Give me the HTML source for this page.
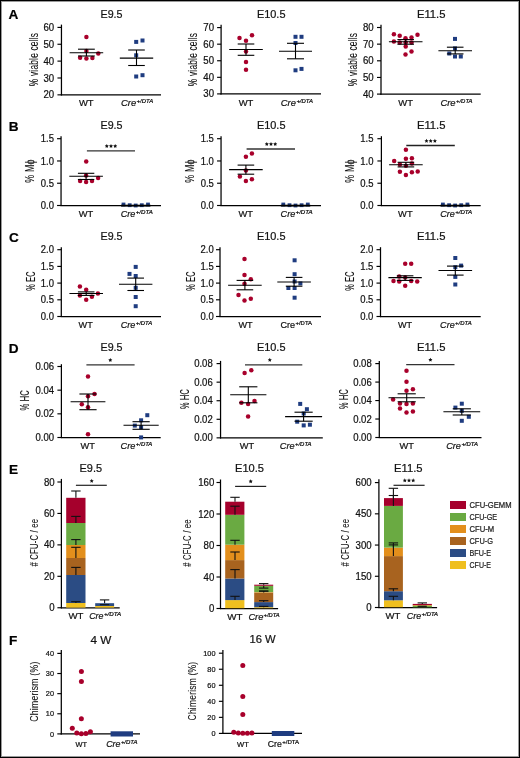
<!DOCTYPE html>
<html><head><meta charset="utf-8"><style>
html,body{margin:0;padding:0;background:#fff;}
body{width:520px;height:758px;overflow:hidden;font-family:"Liberation Sans", sans-serif;}
svg{display:block;will-change:transform;}
text{stroke:#111;stroke-width:0.22px;paint-order:stroke;}
text.v{stroke-width:0.1px;letter-spacing:0.3px;}
</style></head><body>
<svg width="520" height="758" viewBox="0 0 520 758" font-family='"Liberation Sans", sans-serif'>
<rect x="0" y="0" width="520" height="758" fill="#fff"/>
<text x="8.50" y="19.10" font-size="13.6" text-anchor="start" font-weight="bold" font-style="normal" fill="#000">A</text>
<text x="8.80" y="131.20" font-size="13.6" text-anchor="start" font-weight="bold" font-style="normal" fill="#000">B</text>
<text x="9.00" y="241.70" font-size="13.6" text-anchor="start" font-weight="bold" font-style="normal" fill="#000">C</text>
<text x="8.70" y="353.20" font-size="13.6" text-anchor="start" font-weight="bold" font-style="normal" fill="#000">D</text>
<text x="9.10" y="473.60" font-size="13.6" text-anchor="start" font-weight="bold" font-style="normal" fill="#000">E</text>
<text x="9.10" y="645.00" font-size="13.6" text-anchor="start" font-weight="bold" font-style="normal" fill="#000">F</text>
<text x="100.50" y="18.00" font-size="11.4" text-anchor="start" font-weight="normal" font-style="normal" fill="#111" textLength="22.00" lengthAdjust="spacingAndGlyphs">E9.5</text>
<text x="256.90" y="18.00" font-size="11.4" text-anchor="start" font-weight="normal" font-style="normal" fill="#111" textLength="28.60" lengthAdjust="spacingAndGlyphs">E10.5</text>
<text x="416.90" y="18.00" font-size="11.4" text-anchor="start" font-weight="normal" font-style="normal" fill="#111" textLength="28.60" lengthAdjust="spacingAndGlyphs">E11.5</text>
<text x="100.50" y="129.40" font-size="11.4" text-anchor="start" font-weight="normal" font-style="normal" fill="#111" textLength="22.00" lengthAdjust="spacingAndGlyphs">E9.5</text>
<text x="256.90" y="129.40" font-size="11.4" text-anchor="start" font-weight="normal" font-style="normal" fill="#111" textLength="28.60" lengthAdjust="spacingAndGlyphs">E10.5</text>
<text x="416.90" y="129.40" font-size="11.4" text-anchor="start" font-weight="normal" font-style="normal" fill="#111" textLength="28.60" lengthAdjust="spacingAndGlyphs">E11.5</text>
<text x="100.50" y="240.30" font-size="11.4" text-anchor="start" font-weight="normal" font-style="normal" fill="#111" textLength="22.00" lengthAdjust="spacingAndGlyphs">E9.5</text>
<text x="256.90" y="240.30" font-size="11.4" text-anchor="start" font-weight="normal" font-style="normal" fill="#111" textLength="28.60" lengthAdjust="spacingAndGlyphs">E10.5</text>
<text x="416.90" y="240.30" font-size="11.4" text-anchor="start" font-weight="normal" font-style="normal" fill="#111" textLength="28.60" lengthAdjust="spacingAndGlyphs">E11.5</text>
<text x="100.50" y="351.20" font-size="11.4" text-anchor="start" font-weight="normal" font-style="normal" fill="#111" textLength="22.00" lengthAdjust="spacingAndGlyphs">E9.5</text>
<text x="256.90" y="351.20" font-size="11.4" text-anchor="start" font-weight="normal" font-style="normal" fill="#111" textLength="28.60" lengthAdjust="spacingAndGlyphs">E10.5</text>
<text x="416.90" y="351.20" font-size="11.4" text-anchor="start" font-weight="normal" font-style="normal" fill="#111" textLength="28.60" lengthAdjust="spacingAndGlyphs">E11.5</text>
<text x="79.50" y="472.00" font-size="11.4" text-anchor="start" font-weight="normal" font-style="normal" fill="#111" textLength="22.50" lengthAdjust="spacingAndGlyphs">E9.5</text>
<text x="235.00" y="472.00" font-size="11.4" text-anchor="start" font-weight="normal" font-style="normal" fill="#111" textLength="29.00" lengthAdjust="spacingAndGlyphs">E10.5</text>
<text x="394.00" y="472.00" font-size="11.4" text-anchor="start" font-weight="normal" font-style="normal" fill="#111" textLength="28.50" lengthAdjust="spacingAndGlyphs">E11.5</text>
<text x="90.50" y="643.70" font-size="11.4" text-anchor="start" font-weight="normal" font-style="normal" fill="#111" textLength="20.80" lengthAdjust="spacingAndGlyphs">4 W</text>
<text x="249.50" y="642.70" font-size="11.4" text-anchor="start" font-weight="normal" font-style="normal" fill="#111" textLength="26.20" lengthAdjust="spacingAndGlyphs">16 W</text>
<line x1="61.45" y1="24.60" x2="61.45" y2="95.45" stroke="#000" stroke-width="1.25"/>
<line x1="57.45" y1="27.40" x2="61.45" y2="27.40" stroke="#000" stroke-width="1.15"/>
<text x="54.20" y="30.95" font-size="10.0" text-anchor="end" font-weight="normal" font-style="normal" fill="#111" textLength="10.70" lengthAdjust="spacingAndGlyphs">60</text>
<line x1="57.45" y1="44.26" x2="61.45" y2="44.26" stroke="#000" stroke-width="1.15"/>
<text x="54.20" y="47.81" font-size="10.0" text-anchor="end" font-weight="normal" font-style="normal" fill="#111" textLength="10.70" lengthAdjust="spacingAndGlyphs">50</text>
<line x1="57.45" y1="61.12" x2="61.45" y2="61.12" stroke="#000" stroke-width="1.15"/>
<text x="54.20" y="64.67" font-size="10.0" text-anchor="end" font-weight="normal" font-style="normal" fill="#111" textLength="10.70" lengthAdjust="spacingAndGlyphs">40</text>
<line x1="57.45" y1="77.99" x2="61.45" y2="77.99" stroke="#000" stroke-width="1.15"/>
<text x="54.20" y="81.54" font-size="10.0" text-anchor="end" font-weight="normal" font-style="normal" fill="#111" textLength="10.70" lengthAdjust="spacingAndGlyphs">30</text>
<line x1="57.45" y1="94.85" x2="61.45" y2="94.85" stroke="#000" stroke-width="1.15"/>
<text x="54.20" y="98.40" font-size="10.0" text-anchor="end" font-weight="normal" font-style="normal" fill="#111" textLength="10.70" lengthAdjust="spacingAndGlyphs">20</text>
<line x1="60.85" y1="94.85" x2="161.00" y2="94.85" stroke="#000" stroke-width="1.25"/>
<text class="v" transform="translate(37.50,59.50) rotate(-90)" x="0" y="0" font-size="12.0" text-anchor="middle" fill="#111" textLength="53.40" lengthAdjust="spacingAndGlyphs">% viable cells</text>
<text x="78.90" y="106.20" font-size="9.7" text-anchor="start" font-weight="normal" font-style="normal" fill="#111" textLength="14.70" lengthAdjust="spacingAndGlyphs">WT</text>
<text x="121.00" y="106.20" font-size="9.7" text-anchor="start" font-weight="normal" font-style="italic" fill="#111" textLength="15.20" lengthAdjust="spacingAndGlyphs">Cre</text>
<text x="136.60" y="103.00" font-size="5.3" text-anchor="start" font-weight="normal" font-style="italic" fill="#111" textLength="16.50" lengthAdjust="spacingAndGlyphs">+/DTA</text>
<line x1="221.10" y1="24.80" x2="221.10" y2="94.50" stroke="#000" stroke-width="1.25"/>
<line x1="217.10" y1="27.60" x2="221.10" y2="27.60" stroke="#000" stroke-width="1.15"/>
<text x="214.00" y="31.15" font-size="10.0" text-anchor="end" font-weight="normal" font-style="normal" fill="#111" textLength="10.70" lengthAdjust="spacingAndGlyphs">70</text>
<line x1="217.10" y1="44.18" x2="221.10" y2="44.18" stroke="#000" stroke-width="1.15"/>
<text x="214.00" y="47.73" font-size="10.0" text-anchor="end" font-weight="normal" font-style="normal" fill="#111" textLength="10.70" lengthAdjust="spacingAndGlyphs">60</text>
<line x1="217.10" y1="60.75" x2="221.10" y2="60.75" stroke="#000" stroke-width="1.15"/>
<text x="214.00" y="64.30" font-size="10.0" text-anchor="end" font-weight="normal" font-style="normal" fill="#111" textLength="10.70" lengthAdjust="spacingAndGlyphs">50</text>
<line x1="217.10" y1="77.33" x2="221.10" y2="77.33" stroke="#000" stroke-width="1.15"/>
<text x="214.00" y="80.88" font-size="10.0" text-anchor="end" font-weight="normal" font-style="normal" fill="#111" textLength="10.70" lengthAdjust="spacingAndGlyphs">40</text>
<line x1="217.10" y1="93.90" x2="221.10" y2="93.90" stroke="#000" stroke-width="1.15"/>
<text x="214.00" y="97.45" font-size="10.0" text-anchor="end" font-weight="normal" font-style="normal" fill="#111" textLength="10.70" lengthAdjust="spacingAndGlyphs">30</text>
<line x1="220.50" y1="93.90" x2="321.00" y2="93.90" stroke="#000" stroke-width="1.25"/>
<text class="v" transform="translate(197.30,59.50) rotate(-90)" x="0" y="0" font-size="12.0" text-anchor="middle" fill="#111" textLength="53.40" lengthAdjust="spacingAndGlyphs">% viable cells</text>
<text x="238.70" y="106.20" font-size="9.7" text-anchor="start" font-weight="normal" font-style="normal" fill="#111" textLength="14.70" lengthAdjust="spacingAndGlyphs">WT</text>
<text x="280.80" y="106.20" font-size="9.7" text-anchor="start" font-weight="normal" font-style="italic" fill="#111" textLength="15.20" lengthAdjust="spacingAndGlyphs">Cre</text>
<text x="296.40" y="103.00" font-size="5.3" text-anchor="start" font-weight="normal" font-style="italic" fill="#111" textLength="16.50" lengthAdjust="spacingAndGlyphs">+/DTA</text>
<line x1="381.00" y1="24.70" x2="381.00" y2="94.70" stroke="#000" stroke-width="1.25"/>
<line x1="377.00" y1="27.50" x2="381.00" y2="27.50" stroke="#000" stroke-width="1.15"/>
<text x="373.60" y="31.05" font-size="10.0" text-anchor="end" font-weight="normal" font-style="normal" fill="#111" textLength="10.70" lengthAdjust="spacingAndGlyphs">80</text>
<line x1="377.00" y1="44.15" x2="381.00" y2="44.15" stroke="#000" stroke-width="1.15"/>
<text x="373.60" y="47.70" font-size="10.0" text-anchor="end" font-weight="normal" font-style="normal" fill="#111" textLength="10.70" lengthAdjust="spacingAndGlyphs">70</text>
<line x1="377.00" y1="60.80" x2="381.00" y2="60.80" stroke="#000" stroke-width="1.15"/>
<text x="373.60" y="64.35" font-size="10.0" text-anchor="end" font-weight="normal" font-style="normal" fill="#111" textLength="10.70" lengthAdjust="spacingAndGlyphs">60</text>
<line x1="377.00" y1="77.45" x2="381.00" y2="77.45" stroke="#000" stroke-width="1.15"/>
<text x="373.60" y="81.00" font-size="10.0" text-anchor="end" font-weight="normal" font-style="normal" fill="#111" textLength="10.70" lengthAdjust="spacingAndGlyphs">50</text>
<line x1="377.00" y1="94.10" x2="381.00" y2="94.10" stroke="#000" stroke-width="1.15"/>
<text x="373.60" y="97.65" font-size="10.0" text-anchor="end" font-weight="normal" font-style="normal" fill="#111" textLength="10.70" lengthAdjust="spacingAndGlyphs">40</text>
<line x1="380.40" y1="94.10" x2="480.70" y2="94.10" stroke="#000" stroke-width="1.25"/>
<text class="v" transform="translate(356.90,59.50) rotate(-90)" x="0" y="0" font-size="12.0" text-anchor="middle" fill="#111" textLength="53.40" lengthAdjust="spacingAndGlyphs">% viable cells</text>
<text x="398.30" y="106.20" font-size="9.7" text-anchor="start" font-weight="normal" font-style="normal" fill="#111" textLength="14.70" lengthAdjust="spacingAndGlyphs">WT</text>
<text x="440.40" y="106.20" font-size="9.7" text-anchor="start" font-weight="normal" font-style="italic" fill="#111" textLength="15.20" lengthAdjust="spacingAndGlyphs">Cre</text>
<text x="456.00" y="103.00" font-size="5.3" text-anchor="start" font-weight="normal" font-style="italic" fill="#111" textLength="16.50" lengthAdjust="spacingAndGlyphs">+/DTA</text>
<circle cx="86.40" cy="37.10" r="2.25" fill="#a8002b"/>
<circle cx="86.40" cy="50.90" r="2.25" fill="#a8002b"/>
<circle cx="98.30" cy="53.40" r="2.25" fill="#a8002b"/>
<circle cx="80.10" cy="57.70" r="2.25" fill="#a8002b"/>
<circle cx="86.40" cy="58.50" r="2.25" fill="#a8002b"/>
<circle cx="92.40" cy="58.10" r="2.25" fill="#a8002b"/>
<line x1="69.60" y1="52.70" x2="103.20" y2="52.70" stroke="#000" stroke-width="1.1"/>
<line x1="78.00" y1="49.20" x2="94.80" y2="49.20" stroke="#000" stroke-width="1.1"/>
<line x1="78.00" y1="56.00" x2="94.80" y2="56.00" stroke="#000" stroke-width="1.1"/>
<line x1="86.40" y1="49.20" x2="86.40" y2="56.00" stroke="#000" stroke-width="1.1"/>
<rect x="134.20" y="39.90" width="4.0" height="4.0" fill="#1f3c80"/>
<rect x="140.50" y="38.50" width="4.0" height="4.0" fill="#1f3c80"/>
<rect x="134.20" y="53.30" width="4.0" height="4.0" fill="#1f3c80"/>
<rect x="134.20" y="74.50" width="4.0" height="4.0" fill="#1f3c80"/>
<rect x="140.50" y="73.20" width="4.0" height="4.0" fill="#1f3c80"/>
<line x1="119.80" y1="58.10" x2="153.20" y2="58.10" stroke="#000" stroke-width="1.1"/>
<line x1="128.20" y1="50.00" x2="144.80" y2="50.00" stroke="#000" stroke-width="1.1"/>
<line x1="128.20" y1="65.50" x2="144.80" y2="65.50" stroke="#000" stroke-width="1.1"/>
<line x1="136.50" y1="50.00" x2="136.50" y2="65.50" stroke="#000" stroke-width="1.1"/>
<circle cx="239.50" cy="38.00" r="2.25" fill="#a8002b"/>
<circle cx="246.00" cy="40.80" r="2.25" fill="#a8002b"/>
<circle cx="252.00" cy="35.20" r="2.25" fill="#a8002b"/>
<circle cx="246.00" cy="51.60" r="2.25" fill="#a8002b"/>
<circle cx="246.00" cy="62.00" r="2.25" fill="#a8002b"/>
<circle cx="246.00" cy="69.80" r="2.25" fill="#a8002b"/>
<line x1="229.20" y1="49.50" x2="262.80" y2="49.50" stroke="#000" stroke-width="1.1"/>
<line x1="237.70" y1="44.00" x2="254.30" y2="44.00" stroke="#000" stroke-width="1.1"/>
<line x1="237.70" y1="55.30" x2="254.30" y2="55.30" stroke="#000" stroke-width="1.1"/>
<line x1="246.00" y1="44.00" x2="246.00" y2="55.30" stroke="#000" stroke-width="1.1"/>
<rect x="293.50" y="34.80" width="4.0" height="4.0" fill="#1f3c80"/>
<rect x="299.50" y="34.80" width="4.0" height="4.0" fill="#1f3c80"/>
<rect x="293.50" y="41.00" width="4.0" height="4.0" fill="#1f3c80"/>
<rect x="293.50" y="68.30" width="4.0" height="4.0" fill="#1f3c80"/>
<rect x="299.50" y="66.90" width="4.0" height="4.0" fill="#1f3c80"/>
<line x1="279.00" y1="51.20" x2="312.00" y2="51.20" stroke="#000" stroke-width="1.1"/>
<line x1="287.00" y1="43.30" x2="304.00" y2="43.30" stroke="#000" stroke-width="1.1"/>
<line x1="287.00" y1="58.80" x2="304.00" y2="58.80" stroke="#000" stroke-width="1.1"/>
<line x1="295.50" y1="43.30" x2="295.50" y2="58.80" stroke="#000" stroke-width="1.1"/>
<circle cx="393.90" cy="34.30" r="2.25" fill="#a8002b"/>
<circle cx="399.70" cy="35.70" r="2.25" fill="#a8002b"/>
<circle cx="405.50" cy="38.30" r="2.25" fill="#a8002b"/>
<circle cx="411.50" cy="37.40" r="2.25" fill="#a8002b"/>
<circle cx="417.50" cy="34.80" r="2.25" fill="#a8002b"/>
<circle cx="393.90" cy="41.50" r="2.25" fill="#a8002b"/>
<circle cx="399.70" cy="42.40" r="2.25" fill="#a8002b"/>
<circle cx="405.70" cy="42.40" r="2.25" fill="#a8002b"/>
<circle cx="411.50" cy="42.40" r="2.25" fill="#a8002b"/>
<circle cx="405.70" cy="46.50" r="2.25" fill="#a8002b"/>
<circle cx="411.50" cy="51.60" r="2.25" fill="#a8002b"/>
<circle cx="405.50" cy="54.60" r="2.25" fill="#a8002b"/>
<line x1="388.90" y1="41.70" x2="422.50" y2="41.70" stroke="#000" stroke-width="1.1"/>
<line x1="397.40" y1="39.60" x2="414.00" y2="39.60" stroke="#000" stroke-width="1.1"/>
<line x1="397.40" y1="44.20" x2="414.00" y2="44.20" stroke="#000" stroke-width="1.1"/>
<line x1="405.70" y1="39.60" x2="405.70" y2="44.20" stroke="#000" stroke-width="1.1"/>
<rect x="453.00" y="36.90" width="4.0" height="4.0" fill="#1f3c80"/>
<rect x="453.00" y="46.40" width="4.0" height="4.0" fill="#1f3c80"/>
<rect x="447.30" y="51.50" width="4.0" height="4.0" fill="#1f3c80"/>
<rect x="453.00" y="54.50" width="4.0" height="4.0" fill="#1f3c80"/>
<rect x="458.80" y="54.50" width="4.0" height="4.0" fill="#1f3c80"/>
<line x1="438.40" y1="50.70" x2="472.00" y2="50.70" stroke="#000" stroke-width="1.1"/>
<line x1="446.90" y1="47.20" x2="463.50" y2="47.20" stroke="#000" stroke-width="1.1"/>
<line x1="446.90" y1="53.90" x2="463.50" y2="53.90" stroke="#000" stroke-width="1.1"/>
<line x1="455.20" y1="47.20" x2="455.20" y2="53.90" stroke="#000" stroke-width="1.1"/>
<line x1="61.05" y1="136.20" x2="61.05" y2="206.10" stroke="#000" stroke-width="1.25"/>
<line x1="57.05" y1="138.70" x2="61.05" y2="138.70" stroke="#000" stroke-width="1.15"/>
<text x="54.00" y="142.25" font-size="10.0" text-anchor="end" font-weight="normal" font-style="normal" fill="#111" textLength="13.16" lengthAdjust="spacingAndGlyphs">1.5</text>
<line x1="57.05" y1="160.97" x2="61.05" y2="160.97" stroke="#000" stroke-width="1.15"/>
<text x="54.00" y="164.52" font-size="10.0" text-anchor="end" font-weight="normal" font-style="normal" fill="#111" textLength="13.16" lengthAdjust="spacingAndGlyphs">1.0</text>
<line x1="57.05" y1="183.23" x2="61.05" y2="183.23" stroke="#000" stroke-width="1.15"/>
<text x="54.00" y="186.78" font-size="10.0" text-anchor="end" font-weight="normal" font-style="normal" fill="#111" textLength="13.16" lengthAdjust="spacingAndGlyphs">0.5</text>
<line x1="57.05" y1="205.50" x2="61.05" y2="205.50" stroke="#000" stroke-width="1.15"/>
<text x="54.00" y="209.05" font-size="10.0" text-anchor="end" font-weight="normal" font-style="normal" fill="#111" textLength="13.16" lengthAdjust="spacingAndGlyphs">0.0</text>
<line x1="60.45" y1="205.50" x2="161.00" y2="205.50" stroke="#000" stroke-width="1.25"/>
<text class="v" transform="translate(34.30,171.00) rotate(-90)" x="0" y="0" font-size="12.0" text-anchor="middle" fill="#111" textLength="23.50" lengthAdjust="spacingAndGlyphs">% M&#981;</text>
<text x="78.70" y="217.30" font-size="9.7" text-anchor="start" font-weight="normal" font-style="normal" fill="#111" textLength="14.50" lengthAdjust="spacingAndGlyphs">WT</text>
<text x="120.80" y="217.30" font-size="9.7" text-anchor="start" font-weight="normal" font-style="italic" fill="#111" textLength="14.60" lengthAdjust="spacingAndGlyphs">Cre</text>
<text x="135.80" y="214.10" font-size="5.3" text-anchor="start" font-weight="normal" font-style="italic" fill="#111" textLength="17.00" lengthAdjust="spacingAndGlyphs">+/DTA</text>
<rect x="121.60" y="202.60" width="3.8" height="3.8" fill="#1f3c80"/>
<rect x="127.80" y="203.30" width="3.8" height="3.8" fill="#1f3c80"/>
<rect x="133.80" y="203.60" width="3.8" height="3.8" fill="#1f3c80"/>
<rect x="139.90" y="203.30" width="3.8" height="3.8" fill="#1f3c80"/>
<rect x="146.10" y="202.60" width="3.8" height="3.8" fill="#1f3c80"/>
<line x1="121.00" y1="205.60" x2="150.50" y2="205.60" stroke="#000" stroke-width="1.8"/>
<line x1="221.05" y1="136.20" x2="221.05" y2="206.10" stroke="#000" stroke-width="1.25"/>
<line x1="217.05" y1="138.70" x2="221.05" y2="138.70" stroke="#000" stroke-width="1.15"/>
<text x="213.80" y="142.25" font-size="10.0" text-anchor="end" font-weight="normal" font-style="normal" fill="#111" textLength="13.16" lengthAdjust="spacingAndGlyphs">1.5</text>
<line x1="217.05" y1="160.97" x2="221.05" y2="160.97" stroke="#000" stroke-width="1.15"/>
<text x="213.80" y="164.52" font-size="10.0" text-anchor="end" font-weight="normal" font-style="normal" fill="#111" textLength="13.16" lengthAdjust="spacingAndGlyphs">1.0</text>
<line x1="217.05" y1="183.23" x2="221.05" y2="183.23" stroke="#000" stroke-width="1.15"/>
<text x="213.80" y="186.78" font-size="10.0" text-anchor="end" font-weight="normal" font-style="normal" fill="#111" textLength="13.16" lengthAdjust="spacingAndGlyphs">0.5</text>
<line x1="217.05" y1="205.50" x2="221.05" y2="205.50" stroke="#000" stroke-width="1.15"/>
<text x="213.80" y="209.05" font-size="10.0" text-anchor="end" font-weight="normal" font-style="normal" fill="#111" textLength="13.16" lengthAdjust="spacingAndGlyphs">0.0</text>
<line x1="220.45" y1="205.50" x2="321.00" y2="205.50" stroke="#000" stroke-width="1.25"/>
<text class="v" transform="translate(194.10,171.00) rotate(-90)" x="0" y="0" font-size="12.0" text-anchor="middle" fill="#111" textLength="23.50" lengthAdjust="spacingAndGlyphs">% M&#981;</text>
<text x="238.50" y="217.30" font-size="9.7" text-anchor="start" font-weight="normal" font-style="normal" fill="#111" textLength="14.50" lengthAdjust="spacingAndGlyphs">WT</text>
<text x="280.60" y="217.30" font-size="9.7" text-anchor="start" font-weight="normal" font-style="italic" fill="#111" textLength="14.60" lengthAdjust="spacingAndGlyphs">Cre</text>
<text x="295.60" y="214.10" font-size="5.3" text-anchor="start" font-weight="normal" font-style="italic" fill="#111" textLength="17.00" lengthAdjust="spacingAndGlyphs">+/DTA</text>
<rect x="281.40" y="202.60" width="3.8" height="3.8" fill="#1f3c80"/>
<rect x="287.60" y="203.30" width="3.8" height="3.8" fill="#1f3c80"/>
<rect x="293.60" y="203.60" width="3.8" height="3.8" fill="#1f3c80"/>
<rect x="299.70" y="203.30" width="3.8" height="3.8" fill="#1f3c80"/>
<rect x="305.90" y="202.60" width="3.8" height="3.8" fill="#1f3c80"/>
<line x1="280.80" y1="205.60" x2="310.30" y2="205.60" stroke="#000" stroke-width="1.8"/>
<line x1="381.40" y1="136.20" x2="381.40" y2="206.10" stroke="#000" stroke-width="1.25"/>
<line x1="377.40" y1="138.70" x2="381.40" y2="138.70" stroke="#000" stroke-width="1.15"/>
<text x="373.40" y="142.25" font-size="10.0" text-anchor="end" font-weight="normal" font-style="normal" fill="#111" textLength="13.16" lengthAdjust="spacingAndGlyphs">1.5</text>
<line x1="377.40" y1="160.97" x2="381.40" y2="160.97" stroke="#000" stroke-width="1.15"/>
<text x="373.40" y="164.52" font-size="10.0" text-anchor="end" font-weight="normal" font-style="normal" fill="#111" textLength="13.16" lengthAdjust="spacingAndGlyphs">1.0</text>
<line x1="377.40" y1="183.23" x2="381.40" y2="183.23" stroke="#000" stroke-width="1.15"/>
<text x="373.40" y="186.78" font-size="10.0" text-anchor="end" font-weight="normal" font-style="normal" fill="#111" textLength="13.16" lengthAdjust="spacingAndGlyphs">0.5</text>
<line x1="377.40" y1="205.50" x2="381.40" y2="205.50" stroke="#000" stroke-width="1.15"/>
<text x="373.40" y="209.05" font-size="10.0" text-anchor="end" font-weight="normal" font-style="normal" fill="#111" textLength="13.16" lengthAdjust="spacingAndGlyphs">0.0</text>
<line x1="380.80" y1="205.50" x2="480.70" y2="205.50" stroke="#000" stroke-width="1.25"/>
<text class="v" transform="translate(353.70,171.00) rotate(-90)" x="0" y="0" font-size="12.0" text-anchor="middle" fill="#111" textLength="23.50" lengthAdjust="spacingAndGlyphs">% M&#981;</text>
<text x="398.10" y="217.30" font-size="9.7" text-anchor="start" font-weight="normal" font-style="normal" fill="#111" textLength="14.50" lengthAdjust="spacingAndGlyphs">WT</text>
<text x="440.20" y="217.30" font-size="9.7" text-anchor="start" font-weight="normal" font-style="italic" fill="#111" textLength="14.60" lengthAdjust="spacingAndGlyphs">Cre</text>
<text x="455.20" y="214.10" font-size="5.3" text-anchor="start" font-weight="normal" font-style="italic" fill="#111" textLength="17.00" lengthAdjust="spacingAndGlyphs">+/DTA</text>
<rect x="441.00" y="202.60" width="3.8" height="3.8" fill="#1f3c80"/>
<rect x="447.20" y="203.30" width="3.8" height="3.8" fill="#1f3c80"/>
<rect x="453.20" y="203.60" width="3.8" height="3.8" fill="#1f3c80"/>
<rect x="459.30" y="203.30" width="3.8" height="3.8" fill="#1f3c80"/>
<rect x="465.50" y="202.60" width="3.8" height="3.8" fill="#1f3c80"/>
<line x1="440.40" y1="205.60" x2="469.90" y2="205.60" stroke="#000" stroke-width="1.8"/>
<line x1="86.90" y1="150.90" x2="135.00" y2="150.90" stroke="#333" stroke-width="1.3"/>
<polygon points="106.80,143.95 107.43,145.23 108.84,145.44 107.82,146.43 108.06,147.84 106.80,147.17 105.54,147.84 105.78,146.43 104.76,145.44 106.17,145.23" fill="#111"/>
<polygon points="111.00,143.95 111.63,145.23 113.04,145.44 112.02,146.43 112.26,147.84 111.00,147.17 109.74,147.84 109.98,146.43 108.96,145.44 110.37,145.23" fill="#111"/>
<polygon points="115.20,143.95 115.83,145.23 117.24,145.44 116.22,146.43 116.46,147.84 115.20,147.17 113.94,147.84 114.18,146.43 113.16,145.44 114.57,145.23" fill="#111"/>
<line x1="246.60" y1="149.00" x2="295.00" y2="149.00" stroke="#333" stroke-width="1.3"/>
<polygon points="266.80,141.95 267.43,143.23 268.84,143.44 267.82,144.43 268.06,145.84 266.80,145.17 265.54,145.84 265.78,144.43 264.76,143.44 266.17,143.23" fill="#111"/>
<polygon points="271.00,141.95 271.63,143.23 273.04,143.44 272.02,144.43 272.26,145.84 271.00,145.17 269.74,145.84 269.98,144.43 268.96,143.44 270.37,143.23" fill="#111"/>
<polygon points="275.20,141.95 275.83,143.23 277.24,143.44 276.22,144.43 276.46,145.84 275.20,145.17 273.94,145.84 274.18,144.43 273.16,143.44 274.57,143.23" fill="#111"/>
<line x1="406.30" y1="145.50" x2="454.80" y2="145.50" stroke="#222" stroke-width="1.3"/>
<polygon points="426.50,138.85 427.13,140.13 428.54,140.34 427.52,141.33 427.76,142.74 426.50,142.07 425.24,142.74 425.48,141.33 424.46,140.34 425.87,140.13" fill="#111"/>
<polygon points="430.70,138.85 431.33,140.13 432.74,140.34 431.72,141.33 431.96,142.74 430.70,142.07 429.44,142.74 429.68,141.33 428.66,140.34 430.07,140.13" fill="#111"/>
<polygon points="434.90,138.85 435.53,140.13 436.94,140.34 435.92,141.33 436.16,142.74 434.90,142.07 433.64,142.74 433.88,141.33 432.86,140.34 434.27,140.13" fill="#111"/>
<circle cx="86.10" cy="175.50" r="2.25" fill="#a8002b"/>
<circle cx="98.10" cy="177.90" r="2.25" fill="#a8002b"/>
<circle cx="80.10" cy="181.10" r="2.25" fill="#a8002b"/>
<circle cx="86.10" cy="182.00" r="2.25" fill="#a8002b"/>
<circle cx="92.00" cy="181.10" r="2.25" fill="#a8002b"/>
<circle cx="86.20" cy="161.40" r="2.25" fill="#a8002b"/>
<line x1="69.30" y1="176.30" x2="102.90" y2="176.30" stroke="#000" stroke-width="1.1"/>
<line x1="77.90" y1="173.30" x2="94.30" y2="173.30" stroke="#000" stroke-width="1.1"/>
<line x1="77.90" y1="179.50" x2="94.30" y2="179.50" stroke="#000" stroke-width="1.1"/>
<line x1="86.10" y1="173.30" x2="86.10" y2="179.50" stroke="#000" stroke-width="1.1"/>
<circle cx="245.90" cy="156.80" r="2.25" fill="#a8002b"/>
<circle cx="251.90" cy="153.50" r="2.25" fill="#a8002b"/>
<circle cx="245.90" cy="170.40" r="2.25" fill="#a8002b"/>
<circle cx="239.90" cy="176.60" r="2.25" fill="#a8002b"/>
<circle cx="245.90" cy="181.00" r="2.25" fill="#a8002b"/>
<circle cx="251.90" cy="179.20" r="2.25" fill="#a8002b"/>
<line x1="229.10" y1="169.60" x2="262.70" y2="169.60" stroke="#000" stroke-width="1.1"/>
<line x1="237.60" y1="165.10" x2="254.20" y2="165.10" stroke="#000" stroke-width="1.1"/>
<line x1="237.60" y1="174.20" x2="254.20" y2="174.20" stroke="#000" stroke-width="1.1"/>
<line x1="245.90" y1="165.10" x2="245.90" y2="174.20" stroke="#000" stroke-width="1.1"/>
<circle cx="405.90" cy="149.80" r="2.25" fill="#a8002b"/>
<circle cx="394.20" cy="160.90" r="2.25" fill="#a8002b"/>
<circle cx="405.90" cy="158.80" r="2.25" fill="#a8002b"/>
<circle cx="411.90" cy="158.20" r="2.25" fill="#a8002b"/>
<circle cx="399.90" cy="164.60" r="2.25" fill="#a8002b"/>
<circle cx="405.90" cy="165.80" r="2.25" fill="#a8002b"/>
<circle cx="411.90" cy="163.50" r="2.25" fill="#a8002b"/>
<circle cx="399.90" cy="171.80" r="2.25" fill="#a8002b"/>
<circle cx="405.90" cy="175.00" r="2.25" fill="#a8002b"/>
<circle cx="411.90" cy="172.20" r="2.25" fill="#a8002b"/>
<circle cx="417.70" cy="171.50" r="2.25" fill="#a8002b"/>
<line x1="389.10" y1="164.80" x2="422.70" y2="164.80" stroke="#000" stroke-width="1.1"/>
<line x1="397.60" y1="162.30" x2="414.20" y2="162.30" stroke="#000" stroke-width="1.1"/>
<line x1="397.60" y1="166.90" x2="414.20" y2="166.90" stroke="#000" stroke-width="1.1"/>
<line x1="405.90" y1="162.30" x2="405.90" y2="166.90" stroke="#000" stroke-width="1.1"/>
<line x1="61.30" y1="247.20" x2="61.30" y2="317.10" stroke="#000" stroke-width="1.25"/>
<line x1="57.30" y1="249.70" x2="61.30" y2="249.70" stroke="#000" stroke-width="1.15"/>
<text x="53.90" y="253.25" font-size="10.0" text-anchor="end" font-weight="normal" font-style="normal" fill="#111" textLength="13.16" lengthAdjust="spacingAndGlyphs">2.0</text>
<line x1="57.30" y1="266.40" x2="61.30" y2="266.40" stroke="#000" stroke-width="1.15"/>
<text x="53.90" y="269.95" font-size="10.0" text-anchor="end" font-weight="normal" font-style="normal" fill="#111" textLength="13.16" lengthAdjust="spacingAndGlyphs">1.5</text>
<line x1="57.30" y1="283.10" x2="61.30" y2="283.10" stroke="#000" stroke-width="1.15"/>
<text x="53.90" y="286.65" font-size="10.0" text-anchor="end" font-weight="normal" font-style="normal" fill="#111" textLength="13.16" lengthAdjust="spacingAndGlyphs">1.0</text>
<line x1="57.30" y1="299.80" x2="61.30" y2="299.80" stroke="#000" stroke-width="1.15"/>
<text x="53.90" y="303.35" font-size="10.0" text-anchor="end" font-weight="normal" font-style="normal" fill="#111" textLength="13.16" lengthAdjust="spacingAndGlyphs">0.5</text>
<line x1="57.30" y1="316.50" x2="61.30" y2="316.50" stroke="#000" stroke-width="1.15"/>
<text x="53.90" y="320.05" font-size="10.0" text-anchor="end" font-weight="normal" font-style="normal" fill="#111" textLength="13.16" lengthAdjust="spacingAndGlyphs">0.0</text>
<line x1="60.70" y1="316.50" x2="161.00" y2="316.50" stroke="#000" stroke-width="1.25"/>
<text class="v" transform="translate(34.70,281.00) rotate(-90)" x="0" y="0" font-size="12.0" text-anchor="middle" fill="#111" textLength="19.50" lengthAdjust="spacingAndGlyphs">% EC</text>
<text x="78.60" y="327.80" font-size="9.7" text-anchor="start" font-weight="normal" font-style="normal" fill="#111" textLength="14.20" lengthAdjust="spacingAndGlyphs">WT</text>
<text x="120.70" y="327.80" font-size="9.7" text-anchor="start" font-weight="normal" font-style="italic" fill="#111" textLength="14.60" lengthAdjust="spacingAndGlyphs">Cre</text>
<text x="135.70" y="324.60" font-size="5.3" text-anchor="start" font-weight="normal" font-style="italic" fill="#111" textLength="16.50" lengthAdjust="spacingAndGlyphs">+/DTA</text>
<line x1="220.00" y1="247.20" x2="220.00" y2="317.10" stroke="#000" stroke-width="1.25"/>
<line x1="216.00" y1="249.70" x2="220.00" y2="249.70" stroke="#000" stroke-width="1.15"/>
<text x="213.70" y="253.25" font-size="10.0" text-anchor="end" font-weight="normal" font-style="normal" fill="#111" textLength="13.16" lengthAdjust="spacingAndGlyphs">2.0</text>
<line x1="216.00" y1="266.40" x2="220.00" y2="266.40" stroke="#000" stroke-width="1.15"/>
<text x="213.70" y="269.95" font-size="10.0" text-anchor="end" font-weight="normal" font-style="normal" fill="#111" textLength="13.16" lengthAdjust="spacingAndGlyphs">1.5</text>
<line x1="216.00" y1="283.10" x2="220.00" y2="283.10" stroke="#000" stroke-width="1.15"/>
<text x="213.70" y="286.65" font-size="10.0" text-anchor="end" font-weight="normal" font-style="normal" fill="#111" textLength="13.16" lengthAdjust="spacingAndGlyphs">1.0</text>
<line x1="216.00" y1="299.80" x2="220.00" y2="299.80" stroke="#000" stroke-width="1.15"/>
<text x="213.70" y="303.35" font-size="10.0" text-anchor="end" font-weight="normal" font-style="normal" fill="#111" textLength="13.16" lengthAdjust="spacingAndGlyphs">0.5</text>
<line x1="216.00" y1="316.50" x2="220.00" y2="316.50" stroke="#000" stroke-width="1.15"/>
<text x="213.70" y="320.05" font-size="10.0" text-anchor="end" font-weight="normal" font-style="normal" fill="#111" textLength="13.16" lengthAdjust="spacingAndGlyphs">0.0</text>
<line x1="219.40" y1="316.50" x2="321.00" y2="316.50" stroke="#000" stroke-width="1.25"/>
<text class="v" transform="translate(194.50,281.00) rotate(-90)" x="0" y="0" font-size="12.0" text-anchor="middle" fill="#111" textLength="19.50" lengthAdjust="spacingAndGlyphs">% EC</text>
<text x="238.40" y="327.80" font-size="9.7" text-anchor="start" font-weight="normal" font-style="normal" fill="#111" textLength="14.20" lengthAdjust="spacingAndGlyphs">WT</text>
<text x="280.50" y="327.80" font-size="9.7" text-anchor="start" font-weight="normal" font-style="normal" fill="#111" textLength="14.60" lengthAdjust="spacingAndGlyphs">Cre</text>
<text x="295.50" y="324.60" font-size="5.3" text-anchor="start" font-weight="normal" font-style="normal" fill="#111" textLength="16.50" lengthAdjust="spacingAndGlyphs">+/DTA</text>
<line x1="380.50" y1="247.20" x2="380.50" y2="317.10" stroke="#000" stroke-width="1.25"/>
<line x1="376.50" y1="249.70" x2="380.50" y2="249.70" stroke="#000" stroke-width="1.15"/>
<text x="373.30" y="253.25" font-size="10.0" text-anchor="end" font-weight="normal" font-style="normal" fill="#111" textLength="13.16" lengthAdjust="spacingAndGlyphs">2.0</text>
<line x1="376.50" y1="266.40" x2="380.50" y2="266.40" stroke="#000" stroke-width="1.15"/>
<text x="373.30" y="269.95" font-size="10.0" text-anchor="end" font-weight="normal" font-style="normal" fill="#111" textLength="13.16" lengthAdjust="spacingAndGlyphs">1.5</text>
<line x1="376.50" y1="283.10" x2="380.50" y2="283.10" stroke="#000" stroke-width="1.15"/>
<text x="373.30" y="286.65" font-size="10.0" text-anchor="end" font-weight="normal" font-style="normal" fill="#111" textLength="13.16" lengthAdjust="spacingAndGlyphs">1.0</text>
<line x1="376.50" y1="299.80" x2="380.50" y2="299.80" stroke="#000" stroke-width="1.15"/>
<text x="373.30" y="303.35" font-size="10.0" text-anchor="end" font-weight="normal" font-style="normal" fill="#111" textLength="13.16" lengthAdjust="spacingAndGlyphs">0.5</text>
<line x1="376.50" y1="316.50" x2="380.50" y2="316.50" stroke="#000" stroke-width="1.15"/>
<text x="373.30" y="320.05" font-size="10.0" text-anchor="end" font-weight="normal" font-style="normal" fill="#111" textLength="13.16" lengthAdjust="spacingAndGlyphs">0.0</text>
<line x1="379.90" y1="316.50" x2="480.70" y2="316.50" stroke="#000" stroke-width="1.25"/>
<text class="v" transform="translate(354.10,281.00) rotate(-90)" x="0" y="0" font-size="12.0" text-anchor="middle" fill="#111" textLength="19.50" lengthAdjust="spacingAndGlyphs">% EC</text>
<text x="398.00" y="327.80" font-size="9.7" text-anchor="start" font-weight="normal" font-style="normal" fill="#111" textLength="14.20" lengthAdjust="spacingAndGlyphs">WT</text>
<text x="440.10" y="327.80" font-size="9.7" text-anchor="start" font-weight="normal" font-style="italic" fill="#111" textLength="14.60" lengthAdjust="spacingAndGlyphs">Cre</text>
<text x="455.10" y="324.60" font-size="5.3" text-anchor="start" font-weight="normal" font-style="italic" fill="#111" textLength="16.50" lengthAdjust="spacingAndGlyphs">+/DTA</text>
<circle cx="79.90" cy="286.60" r="2.25" fill="#a8002b"/>
<circle cx="86.20" cy="289.80" r="2.25" fill="#a8002b"/>
<circle cx="79.90" cy="295.60" r="2.25" fill="#a8002b"/>
<circle cx="91.90" cy="296.80" r="2.25" fill="#a8002b"/>
<circle cx="97.90" cy="293.50" r="2.25" fill="#a8002b"/>
<circle cx="86.20" cy="299.80" r="2.25" fill="#a8002b"/>
<line x1="69.40" y1="293.50" x2="103.00" y2="293.50" stroke="#000" stroke-width="1.1"/>
<line x1="77.90" y1="291.90" x2="94.50" y2="291.90" stroke="#000" stroke-width="1.1"/>
<line x1="77.90" y1="295.40" x2="94.50" y2="295.40" stroke="#000" stroke-width="1.1"/>
<line x1="86.20" y1="291.90" x2="86.20" y2="295.40" stroke="#000" stroke-width="1.1"/>
<rect x="133.70" y="264.90" width="4.0" height="4.0" fill="#1f3c80"/>
<rect x="127.50" y="271.90" width="4.0" height="4.0" fill="#1f3c80"/>
<rect x="133.70" y="274.00" width="4.0" height="4.0" fill="#1f3c80"/>
<rect x="133.70" y="285.80" width="4.0" height="4.0" fill="#1f3c80"/>
<rect x="133.70" y="295.00" width="4.0" height="4.0" fill="#1f3c80"/>
<rect x="133.70" y="304.20" width="4.0" height="4.0" fill="#1f3c80"/>
<line x1="119.00" y1="284.30" x2="152.40" y2="284.30" stroke="#000" stroke-width="1.1"/>
<line x1="127.40" y1="278.10" x2="144.00" y2="278.10" stroke="#000" stroke-width="1.1"/>
<line x1="127.40" y1="290.50" x2="144.00" y2="290.50" stroke="#000" stroke-width="1.1"/>
<line x1="135.70" y1="278.10" x2="135.70" y2="290.50" stroke="#000" stroke-width="1.1"/>
<circle cx="244.50" cy="258.90" r="2.25" fill="#a8002b"/>
<circle cx="244.50" cy="275.10" r="2.25" fill="#a8002b"/>
<circle cx="250.80" cy="279.20" r="2.25" fill="#a8002b"/>
<circle cx="244.50" cy="283.80" r="2.25" fill="#a8002b"/>
<circle cx="238.50" cy="294.90" r="2.25" fill="#a8002b"/>
<circle cx="244.50" cy="300.50" r="2.25" fill="#a8002b"/>
<circle cx="250.80" cy="298.80" r="2.25" fill="#a8002b"/>
<line x1="228.10" y1="285.20" x2="261.70" y2="285.20" stroke="#000" stroke-width="1.1"/>
<line x1="236.60" y1="280.40" x2="253.20" y2="280.40" stroke="#000" stroke-width="1.1"/>
<line x1="236.60" y1="289.80" x2="253.20" y2="289.80" stroke="#000" stroke-width="1.1"/>
<line x1="244.90" y1="280.40" x2="244.90" y2="289.80" stroke="#000" stroke-width="1.1"/>
<rect x="292.60" y="258.30" width="4.0" height="4.0" fill="#1f3c80"/>
<rect x="292.60" y="272.20" width="4.0" height="4.0" fill="#1f3c80"/>
<rect x="292.60" y="279.50" width="4.0" height="4.0" fill="#1f3c80"/>
<rect x="298.40" y="281.40" width="4.0" height="4.0" fill="#1f3c80"/>
<rect x="286.40" y="286.00" width="4.0" height="4.0" fill="#1f3c80"/>
<rect x="292.60" y="286.00" width="4.0" height="4.0" fill="#1f3c80"/>
<rect x="292.60" y="295.70" width="4.0" height="4.0" fill="#1f3c80"/>
<line x1="277.30" y1="282.00" x2="310.90" y2="282.00" stroke="#000" stroke-width="1.1"/>
<line x1="285.80" y1="277.40" x2="302.40" y2="277.40" stroke="#000" stroke-width="1.1"/>
<line x1="285.80" y1="286.20" x2="302.40" y2="286.20" stroke="#000" stroke-width="1.1"/>
<line x1="294.10" y1="277.40" x2="294.10" y2="286.20" stroke="#000" stroke-width="1.1"/>
<circle cx="405.20" cy="263.80" r="2.25" fill="#a8002b"/>
<circle cx="411.20" cy="263.80" r="2.25" fill="#a8002b"/>
<circle cx="399.20" cy="276.50" r="2.25" fill="#a8002b"/>
<circle cx="405.20" cy="277.40" r="2.25" fill="#a8002b"/>
<circle cx="393.50" cy="281.10" r="2.25" fill="#a8002b"/>
<circle cx="399.20" cy="281.50" r="2.25" fill="#a8002b"/>
<circle cx="411.20" cy="281.10" r="2.25" fill="#a8002b"/>
<circle cx="417.20" cy="281.50" r="2.25" fill="#a8002b"/>
<circle cx="405.20" cy="285.70" r="2.25" fill="#a8002b"/>
<line x1="388.40" y1="277.60" x2="421.80" y2="277.60" stroke="#000" stroke-width="1.1"/>
<line x1="396.80" y1="275.80" x2="413.40" y2="275.80" stroke="#000" stroke-width="1.1"/>
<line x1="396.80" y1="280.40" x2="413.40" y2="280.40" stroke="#000" stroke-width="1.1"/>
<line x1="405.10" y1="275.80" x2="405.10" y2="280.40" stroke="#000" stroke-width="1.1"/>
<rect x="453.30" y="256.00" width="4.0" height="4.0" fill="#1f3c80"/>
<rect x="459.10" y="263.60" width="4.0" height="4.0" fill="#1f3c80"/>
<rect x="453.30" y="265.20" width="4.0" height="4.0" fill="#1f3c80"/>
<rect x="453.30" y="274.90" width="4.0" height="4.0" fill="#1f3c80"/>
<rect x="453.30" y="282.50" width="4.0" height="4.0" fill="#1f3c80"/>
<line x1="438.50" y1="270.50" x2="472.10" y2="270.50" stroke="#000" stroke-width="1.1"/>
<line x1="447.00" y1="266.10" x2="463.60" y2="266.10" stroke="#000" stroke-width="1.1"/>
<line x1="447.00" y1="275.10" x2="463.60" y2="275.10" stroke="#000" stroke-width="1.1"/>
<line x1="455.30" y1="266.10" x2="455.30" y2="275.10" stroke="#000" stroke-width="1.1"/>
<line x1="61.40" y1="364.20" x2="61.40" y2="438.10" stroke="#000" stroke-width="1.25"/>
<line x1="57.40" y1="366.50" x2="61.40" y2="366.50" stroke="#000" stroke-width="1.15"/>
<text x="54.00" y="370.05" font-size="10.0" text-anchor="end" font-weight="normal" font-style="normal" fill="#111" textLength="18.51" lengthAdjust="spacingAndGlyphs">0.06</text>
<line x1="57.40" y1="390.17" x2="61.40" y2="390.17" stroke="#000" stroke-width="1.15"/>
<text x="54.00" y="393.72" font-size="10.0" text-anchor="end" font-weight="normal" font-style="normal" fill="#111" textLength="18.51" lengthAdjust="spacingAndGlyphs">0.04</text>
<line x1="57.40" y1="413.83" x2="61.40" y2="413.83" stroke="#000" stroke-width="1.15"/>
<text x="54.00" y="417.38" font-size="10.0" text-anchor="end" font-weight="normal" font-style="normal" fill="#111" textLength="18.51" lengthAdjust="spacingAndGlyphs">0.02</text>
<line x1="57.40" y1="437.50" x2="61.40" y2="437.50" stroke="#000" stroke-width="1.15"/>
<text x="54.00" y="441.05" font-size="10.0" text-anchor="end" font-weight="normal" font-style="normal" fill="#111" textLength="18.51" lengthAdjust="spacingAndGlyphs">0.00</text>
<line x1="60.80" y1="437.50" x2="160.70" y2="437.50" stroke="#000" stroke-width="1.25"/>
<text class="v" transform="translate(29.20,400.30) rotate(-90)" x="0" y="0" font-size="12.0" text-anchor="middle" fill="#111" textLength="20.60" lengthAdjust="spacingAndGlyphs">% HC</text>
<text x="80.60" y="448.90" font-size="9.7" text-anchor="start" font-weight="normal" font-style="normal" fill="#111" textLength="14.40" lengthAdjust="spacingAndGlyphs">WT</text>
<text x="120.60" y="448.90" font-size="9.7" text-anchor="start" font-weight="normal" font-style="italic" fill="#111" textLength="14.80" lengthAdjust="spacingAndGlyphs">Cre</text>
<text x="135.80" y="445.70" font-size="5.3" text-anchor="start" font-weight="normal" font-style="italic" fill="#111" textLength="16.50" lengthAdjust="spacingAndGlyphs">+/DTA</text>
<line x1="220.55" y1="360.90" x2="220.55" y2="438.45" stroke="#000" stroke-width="1.25"/>
<line x1="216.55" y1="363.60" x2="220.55" y2="363.60" stroke="#000" stroke-width="1.15"/>
<text x="212.70" y="367.15" font-size="10.0" text-anchor="end" font-weight="normal" font-style="normal" fill="#111" textLength="18.51" lengthAdjust="spacingAndGlyphs">0.08</text>
<line x1="216.55" y1="382.16" x2="220.55" y2="382.16" stroke="#000" stroke-width="1.15"/>
<text x="212.70" y="385.71" font-size="10.0" text-anchor="end" font-weight="normal" font-style="normal" fill="#111" textLength="18.51" lengthAdjust="spacingAndGlyphs">0.06</text>
<line x1="216.55" y1="400.73" x2="220.55" y2="400.73" stroke="#000" stroke-width="1.15"/>
<text x="212.70" y="404.28" font-size="10.0" text-anchor="end" font-weight="normal" font-style="normal" fill="#111" textLength="18.51" lengthAdjust="spacingAndGlyphs">0.04</text>
<line x1="216.55" y1="419.29" x2="220.55" y2="419.29" stroke="#000" stroke-width="1.15"/>
<text x="212.70" y="422.84" font-size="10.0" text-anchor="end" font-weight="normal" font-style="normal" fill="#111" textLength="18.51" lengthAdjust="spacingAndGlyphs">0.02</text>
<line x1="216.55" y1="437.85" x2="220.55" y2="437.85" stroke="#000" stroke-width="1.15"/>
<text x="212.70" y="441.40" font-size="10.0" text-anchor="end" font-weight="normal" font-style="normal" fill="#111" textLength="18.51" lengthAdjust="spacingAndGlyphs">0.00</text>
<line x1="219.95" y1="437.85" x2="322.80" y2="437.85" stroke="#000" stroke-width="1.25"/>
<text class="v" transform="translate(188.80,399.00) rotate(-90)" x="0" y="0" font-size="12.0" text-anchor="middle" fill="#111" textLength="20.00" lengthAdjust="spacingAndGlyphs">% HC</text>
<line x1="379.30" y1="360.90" x2="379.30" y2="438.10" stroke="#000" stroke-width="1.25"/>
<line x1="375.30" y1="363.60" x2="379.30" y2="363.60" stroke="#000" stroke-width="1.15"/>
<text x="371.70" y="367.15" font-size="10.0" text-anchor="end" font-weight="normal" font-style="normal" fill="#111" textLength="18.51" lengthAdjust="spacingAndGlyphs">0.08</text>
<line x1="375.30" y1="382.08" x2="379.30" y2="382.08" stroke="#000" stroke-width="1.15"/>
<text x="371.70" y="385.63" font-size="10.0" text-anchor="end" font-weight="normal" font-style="normal" fill="#111" textLength="18.51" lengthAdjust="spacingAndGlyphs">0.06</text>
<line x1="375.30" y1="400.55" x2="379.30" y2="400.55" stroke="#000" stroke-width="1.15"/>
<text x="371.70" y="404.10" font-size="10.0" text-anchor="end" font-weight="normal" font-style="normal" fill="#111" textLength="18.51" lengthAdjust="spacingAndGlyphs">0.04</text>
<line x1="375.30" y1="419.02" x2="379.30" y2="419.02" stroke="#000" stroke-width="1.15"/>
<text x="371.70" y="422.57" font-size="10.0" text-anchor="end" font-weight="normal" font-style="normal" fill="#111" textLength="18.51" lengthAdjust="spacingAndGlyphs">0.02</text>
<line x1="375.30" y1="437.50" x2="379.30" y2="437.50" stroke="#000" stroke-width="1.15"/>
<text x="371.70" y="441.05" font-size="10.0" text-anchor="end" font-weight="normal" font-style="normal" fill="#111" textLength="18.51" lengthAdjust="spacingAndGlyphs">0.00</text>
<line x1="378.70" y1="437.50" x2="481.50" y2="437.50" stroke="#000" stroke-width="1.25"/>
<text class="v" transform="translate(347.80,399.00) rotate(-90)" x="0" y="0" font-size="12.0" text-anchor="middle" fill="#111" textLength="20.00" lengthAdjust="spacingAndGlyphs">% HC</text>
<line x1="86.40" y1="364.90" x2="134.60" y2="364.90" stroke="#333" stroke-width="1.3"/>
<polygon points="110.30,357.95 110.93,359.23 112.34,359.44 111.32,360.43 111.56,361.84 110.30,361.18 109.04,361.84 109.28,360.43 108.26,359.44 109.67,359.23" fill="#111"/>
<line x1="245.00" y1="364.90" x2="302.30" y2="364.90" stroke="#333" stroke-width="1.3"/>
<polygon points="269.80,357.85 270.43,359.13 271.84,359.34 270.82,360.33 271.06,361.74 269.80,361.07 268.54,361.74 268.78,360.33 267.76,359.34 269.17,359.13" fill="#111"/>
<line x1="406.20" y1="364.70" x2="454.50" y2="364.70" stroke="#333" stroke-width="1.3"/>
<polygon points="430.40,357.65 431.03,358.93 432.44,359.14 431.42,360.13 431.66,361.54 430.40,360.88 429.14,361.54 429.38,360.13 428.36,359.14 429.77,358.93" fill="#111"/>
<circle cx="88.00" cy="376.50" r="2.25" fill="#a8002b"/>
<circle cx="94.50" cy="394.00" r="2.25" fill="#a8002b"/>
<circle cx="88.00" cy="396.30" r="2.25" fill="#a8002b"/>
<circle cx="81.80" cy="404.20" r="2.25" fill="#a8002b"/>
<circle cx="88.00" cy="407.20" r="2.25" fill="#a8002b"/>
<circle cx="88.00" cy="434.20" r="2.25" fill="#a8002b"/>
<line x1="70.60" y1="401.80" x2="105.40" y2="401.80" stroke="#000" stroke-width="1.1"/>
<line x1="79.40" y1="394.00" x2="96.60" y2="394.00" stroke="#000" stroke-width="1.1"/>
<line x1="79.40" y1="409.70" x2="96.60" y2="409.70" stroke="#000" stroke-width="1.1"/>
<line x1="88.00" y1="394.00" x2="88.00" y2="409.70" stroke="#000" stroke-width="1.1"/>
<rect x="145.30" y="413.20" width="4.0" height="4.0" fill="#1f3c80"/>
<rect x="139.10" y="418.30" width="4.0" height="4.0" fill="#1f3c80"/>
<rect x="132.80" y="423.60" width="4.0" height="4.0" fill="#1f3c80"/>
<rect x="139.10" y="425.20" width="4.0" height="4.0" fill="#1f3c80"/>
<rect x="139.10" y="435.40" width="4.0" height="4.0" fill="#1f3c80"/>
<line x1="123.50" y1="425.20" x2="158.70" y2="425.20" stroke="#000" stroke-width="1.1"/>
<line x1="132.50" y1="421.70" x2="149.70" y2="421.70" stroke="#000" stroke-width="1.1"/>
<line x1="132.50" y1="429.30" x2="149.70" y2="429.30" stroke="#000" stroke-width="1.1"/>
<line x1="141.10" y1="421.70" x2="141.10" y2="429.30" stroke="#000" stroke-width="1.1"/>
<circle cx="244.60" cy="373.00" r="2.25" fill="#a8002b"/>
<circle cx="251.30" cy="370.20" r="2.25" fill="#a8002b"/>
<circle cx="241.40" cy="402.80" r="2.25" fill="#a8002b"/>
<circle cx="248.10" cy="403.90" r="2.25" fill="#a8002b"/>
<circle cx="254.50" cy="400.90" r="2.25" fill="#a8002b"/>
<circle cx="248.10" cy="416.60" r="2.25" fill="#a8002b"/>
<line x1="230.20" y1="394.70" x2="266.40" y2="394.70" stroke="#000" stroke-width="1.1"/>
<line x1="239.20" y1="386.80" x2="257.40" y2="386.80" stroke="#000" stroke-width="1.1"/>
<line x1="239.20" y1="402.80" x2="257.40" y2="402.80" stroke="#000" stroke-width="1.1"/>
<line x1="248.30" y1="386.80" x2="248.30" y2="402.80" stroke="#000" stroke-width="1.1"/>
<rect x="298.20" y="401.90" width="4.0" height="4.0" fill="#1f3c80"/>
<rect x="304.90" y="407.20" width="4.0" height="4.0" fill="#1f3c80"/>
<rect x="301.70" y="411.50" width="4.0" height="4.0" fill="#1f3c80"/>
<rect x="295.20" y="419.70" width="4.0" height="4.0" fill="#1f3c80"/>
<rect x="301.70" y="423.40" width="4.0" height="4.0" fill="#1f3c80"/>
<rect x="307.90" y="422.70" width="4.0" height="4.0" fill="#1f3c80"/>
<line x1="285.10" y1="416.60" x2="322.10" y2="416.60" stroke="#000" stroke-width="1.1"/>
<line x1="294.50" y1="412.20" x2="312.70" y2="412.20" stroke="#000" stroke-width="1.1"/>
<line x1="294.50" y1="421.20" x2="312.70" y2="421.20" stroke="#000" stroke-width="1.1"/>
<line x1="303.60" y1="412.20" x2="303.60" y2="421.20" stroke="#000" stroke-width="1.1"/>
<text x="239.70" y="448.90" font-size="9.7" text-anchor="start" font-weight="normal" font-style="normal" fill="#111" textLength="14.40" lengthAdjust="spacingAndGlyphs">WT</text>
<text x="279.80" y="448.90" font-size="9.7" text-anchor="start" font-weight="normal" font-style="italic" fill="#111" textLength="14.80" lengthAdjust="spacingAndGlyphs">Cre</text>
<text x="295.00" y="445.70" font-size="5.3" text-anchor="start" font-weight="normal" font-style="italic" fill="#111" textLength="16.50" lengthAdjust="spacingAndGlyphs">+/DTA</text>
<circle cx="406.50" cy="370.70" r="2.25" fill="#a8002b"/>
<circle cx="406.50" cy="381.80" r="2.25" fill="#a8002b"/>
<circle cx="406.50" cy="390.80" r="2.25" fill="#a8002b"/>
<circle cx="412.90" cy="389.20" r="2.25" fill="#a8002b"/>
<circle cx="393.10" cy="399.50" r="2.25" fill="#a8002b"/>
<circle cx="400.00" cy="403.50" r="2.25" fill="#a8002b"/>
<circle cx="406.50" cy="403.90" r="2.25" fill="#a8002b"/>
<circle cx="412.90" cy="403.50" r="2.25" fill="#a8002b"/>
<circle cx="400.00" cy="408.50" r="2.25" fill="#a8002b"/>
<circle cx="406.50" cy="412.50" r="2.25" fill="#a8002b"/>
<circle cx="412.90" cy="411.50" r="2.25" fill="#a8002b"/>
<line x1="388.50" y1="397.70" x2="424.90" y2="397.70" stroke="#000" stroke-width="1.1"/>
<line x1="397.60" y1="393.80" x2="415.80" y2="393.80" stroke="#000" stroke-width="1.1"/>
<line x1="397.60" y1="401.80" x2="415.80" y2="401.80" stroke="#000" stroke-width="1.1"/>
<line x1="406.70" y1="393.80" x2="406.70" y2="401.80" stroke="#000" stroke-width="1.1"/>
<rect x="453.40" y="405.60" width="4.0" height="4.0" fill="#1f3c80"/>
<rect x="459.80" y="401.70" width="4.0" height="4.0" fill="#1f3c80"/>
<rect x="459.80" y="408.80" width="4.0" height="4.0" fill="#1f3c80"/>
<rect x="466.80" y="414.80" width="4.0" height="4.0" fill="#1f3c80"/>
<rect x="459.80" y="418.80" width="4.0" height="4.0" fill="#1f3c80"/>
<line x1="443.40" y1="411.80" x2="480.20" y2="411.80" stroke="#000" stroke-width="1.1"/>
<line x1="452.70" y1="408.80" x2="470.90" y2="408.80" stroke="#000" stroke-width="1.1"/>
<line x1="452.70" y1="415.00" x2="470.90" y2="415.00" stroke="#000" stroke-width="1.1"/>
<line x1="461.80" y1="408.80" x2="461.80" y2="415.00" stroke="#000" stroke-width="1.1"/>
<text x="399.40" y="448.90" font-size="9.7" text-anchor="start" font-weight="normal" font-style="normal" fill="#111" textLength="14.40" lengthAdjust="spacingAndGlyphs">WT</text>
<text x="446.20" y="448.90" font-size="9.7" text-anchor="start" font-weight="normal" font-style="italic" fill="#111" textLength="14.80" lengthAdjust="spacingAndGlyphs">Cre</text>
<text x="461.40" y="445.70" font-size="5.3" text-anchor="start" font-weight="normal" font-style="italic" fill="#111" textLength="16.50" lengthAdjust="spacingAndGlyphs">+/DTA</text>
<line x1="61.40" y1="478.90" x2="61.40" y2="608.35" stroke="#000" stroke-width="1.25"/>
<line x1="57.40" y1="482.00" x2="61.40" y2="482.00" stroke="#000" stroke-width="1.15"/>
<text x="54.60" y="485.55" font-size="10.0" text-anchor="end" font-weight="normal" font-style="normal" fill="#111" textLength="10.70" lengthAdjust="spacingAndGlyphs">80</text>
<line x1="57.40" y1="513.44" x2="61.40" y2="513.44" stroke="#000" stroke-width="1.15"/>
<text x="54.60" y="516.99" font-size="10.0" text-anchor="end" font-weight="normal" font-style="normal" fill="#111" textLength="10.70" lengthAdjust="spacingAndGlyphs">60</text>
<line x1="57.40" y1="544.88" x2="61.40" y2="544.88" stroke="#000" stroke-width="1.15"/>
<text x="54.60" y="548.42" font-size="10.0" text-anchor="end" font-weight="normal" font-style="normal" fill="#111" textLength="10.70" lengthAdjust="spacingAndGlyphs">40</text>
<line x1="57.40" y1="576.31" x2="61.40" y2="576.31" stroke="#000" stroke-width="1.15"/>
<text x="54.60" y="579.86" font-size="10.0" text-anchor="end" font-weight="normal" font-style="normal" fill="#111" textLength="10.70" lengthAdjust="spacingAndGlyphs">20</text>
<line x1="57.40" y1="607.75" x2="61.40" y2="607.75" stroke="#000" stroke-width="1.15"/>
<text x="54.60" y="611.30" font-size="10.0" text-anchor="end" font-weight="normal" font-style="normal" fill="#111" textLength="5.35" lengthAdjust="spacingAndGlyphs">0</text>
<line x1="60.80" y1="607.75" x2="119.70" y2="607.75" stroke="#000" stroke-width="1.25"/>
<text class="v" transform="translate(38.00,542.70) rotate(-90)" x="0" y="0" font-size="11.0" text-anchor="middle" fill="#111" textLength="47.80" lengthAdjust="spacingAndGlyphs"># CFU-C / ee</text>
<rect x="66.20" y="603.00" width="19.30" height="4.60" fill="#efbf1f"/>
<rect x="66.20" y="575.00" width="19.30" height="28.00" fill="#2b4c84"/>
<rect x="66.20" y="558.00" width="19.30" height="17.00" fill="#a8631f"/>
<rect x="66.20" y="545.00" width="19.30" height="13.00" fill="#e38f1c"/>
<rect x="66.20" y="523.00" width="19.30" height="22.00" fill="#6aaa42"/>
<rect x="66.20" y="497.80" width="19.30" height="25.20" fill="#a5002c"/>
<line x1="75.90" y1="603.00" x2="75.90" y2="601.70" stroke="#111" stroke-width="1.1"/>
<line x1="71.20" y1="601.70" x2="80.60" y2="601.70" stroke="#111" stroke-width="1.1"/>
<line x1="75.90" y1="575.00" x2="75.90" y2="567.40" stroke="#111" stroke-width="1.1"/>
<line x1="71.20" y1="567.40" x2="80.60" y2="567.40" stroke="#111" stroke-width="1.1"/>
<line x1="75.90" y1="558.00" x2="75.90" y2="547.30" stroke="#111" stroke-width="1.1"/>
<line x1="71.20" y1="547.30" x2="80.60" y2="547.30" stroke="#111" stroke-width="1.1"/>
<line x1="75.90" y1="545.00" x2="75.90" y2="539.60" stroke="#111" stroke-width="1.1"/>
<line x1="71.20" y1="539.60" x2="80.60" y2="539.60" stroke="#111" stroke-width="1.1"/>
<line x1="75.90" y1="523.00" x2="75.90" y2="516.40" stroke="#111" stroke-width="1.1"/>
<line x1="71.20" y1="516.40" x2="80.60" y2="516.40" stroke="#111" stroke-width="1.1"/>
<line x1="75.90" y1="497.80" x2="75.90" y2="491.00" stroke="#111" stroke-width="1.1"/>
<line x1="71.20" y1="491.00" x2="80.60" y2="491.00" stroke="#111" stroke-width="1.1"/>
<rect x="95.20" y="606.00" width="18.90" height="1.60" fill="#efbf1f"/>
<rect x="95.20" y="603.20" width="18.90" height="2.80" fill="#2b4c84"/>
<line x1="104.60" y1="604.70" x2="104.60" y2="604.70" stroke="#111" stroke-width="1.1"/>
<line x1="99.90" y1="604.70" x2="109.30" y2="604.70" stroke="#111" stroke-width="1.1"/>
<line x1="104.60" y1="603.20" x2="104.60" y2="599.90" stroke="#111" stroke-width="1.1"/>
<line x1="99.90" y1="599.90" x2="109.30" y2="599.90" stroke="#111" stroke-width="1.1"/>
<line x1="75.90" y1="485.30" x2="106.80" y2="485.30" stroke="#222" stroke-width="1.2"/>
<polygon points="91.70,478.85 92.33,480.13 93.74,480.34 92.72,481.33 92.96,482.74 91.70,482.07 90.44,482.74 90.68,481.33 89.66,480.34 91.07,480.13" fill="#111"/>
<text x="68.50" y="619.30" font-size="9.6" text-anchor="start" font-weight="normal" font-style="normal" fill="#111" textLength="15.00" lengthAdjust="spacingAndGlyphs">WT</text>
<text x="89.20" y="619.30" font-size="9.6" text-anchor="start" font-weight="normal" font-style="italic" fill="#111" textLength="14.30" lengthAdjust="spacingAndGlyphs">Cre</text>
<text x="104.00" y="616.10" font-size="5.3" text-anchor="start" font-weight="normal" font-style="italic" fill="#111" textLength="17.20" lengthAdjust="spacingAndGlyphs">+/DTA</text>
<line x1="220.50" y1="479.50" x2="220.50" y2="609.10" stroke="#000" stroke-width="1.25"/>
<line x1="216.50" y1="482.50" x2="220.50" y2="482.50" stroke="#000" stroke-width="1.15"/>
<text x="214.30" y="486.05" font-size="10.0" text-anchor="end" font-weight="normal" font-style="normal" fill="#111" textLength="16.05" lengthAdjust="spacingAndGlyphs">160</text>
<line x1="216.50" y1="514.00" x2="220.50" y2="514.00" stroke="#000" stroke-width="1.15"/>
<text x="214.30" y="517.55" font-size="10.0" text-anchor="end" font-weight="normal" font-style="normal" fill="#111" textLength="16.05" lengthAdjust="spacingAndGlyphs">120</text>
<line x1="216.50" y1="545.50" x2="220.50" y2="545.50" stroke="#000" stroke-width="1.15"/>
<text x="214.30" y="549.05" font-size="10.0" text-anchor="end" font-weight="normal" font-style="normal" fill="#111" textLength="10.70" lengthAdjust="spacingAndGlyphs">80</text>
<line x1="216.50" y1="577.00" x2="220.50" y2="577.00" stroke="#000" stroke-width="1.15"/>
<text x="214.30" y="580.55" font-size="10.0" text-anchor="end" font-weight="normal" font-style="normal" fill="#111" textLength="10.70" lengthAdjust="spacingAndGlyphs">40</text>
<line x1="216.50" y1="608.50" x2="220.50" y2="608.50" stroke="#000" stroke-width="1.15"/>
<text x="214.30" y="612.05" font-size="10.0" text-anchor="end" font-weight="normal" font-style="normal" fill="#111" textLength="5.35" lengthAdjust="spacingAndGlyphs">0</text>
<line x1="219.90" y1="608.50" x2="278.10" y2="608.50" stroke="#000" stroke-width="1.25"/>
<text class="v" transform="translate(191.00,543.00) rotate(-90)" x="0" y="0" font-size="11.0" text-anchor="middle" fill="#111" textLength="47.50" lengthAdjust="spacingAndGlyphs"># CFU-C / ee</text>
<rect x="225.20" y="600.10" width="19.20" height="8.10" fill="#efbf1f"/>
<rect x="225.20" y="578.50" width="19.20" height="21.60" fill="#2b4c84"/>
<rect x="225.20" y="560.10" width="19.20" height="18.40" fill="#a8631f"/>
<rect x="225.20" y="544.70" width="19.20" height="15.40" fill="#e38f1c"/>
<rect x="225.20" y="514.80" width="19.20" height="29.90" fill="#6aaa42"/>
<rect x="225.20" y="501.70" width="19.20" height="13.10" fill="#a5002c"/>
<line x1="235.00" y1="600.10" x2="235.00" y2="596.30" stroke="#111" stroke-width="1.1"/>
<line x1="230.30" y1="596.30" x2="239.70" y2="596.30" stroke="#111" stroke-width="1.1"/>
<line x1="235.00" y1="578.50" x2="235.00" y2="569.60" stroke="#111" stroke-width="1.1"/>
<line x1="230.30" y1="569.60" x2="239.70" y2="569.60" stroke="#111" stroke-width="1.1"/>
<line x1="235.00" y1="560.10" x2="235.00" y2="552.00" stroke="#111" stroke-width="1.1"/>
<line x1="230.30" y1="552.00" x2="239.70" y2="552.00" stroke="#111" stroke-width="1.1"/>
<line x1="235.00" y1="544.70" x2="235.00" y2="540.30" stroke="#111" stroke-width="1.1"/>
<line x1="230.30" y1="540.30" x2="239.70" y2="540.30" stroke="#111" stroke-width="1.1"/>
<line x1="235.00" y1="514.80" x2="235.00" y2="506.20" stroke="#111" stroke-width="1.1"/>
<line x1="230.30" y1="506.20" x2="239.70" y2="506.20" stroke="#111" stroke-width="1.1"/>
<line x1="235.00" y1="501.70" x2="235.00" y2="497.30" stroke="#111" stroke-width="1.1"/>
<line x1="230.30" y1="497.30" x2="239.70" y2="497.30" stroke="#111" stroke-width="1.1"/>
<rect x="254.20" y="607.20" width="19.00" height="1.00" fill="#efbf1f"/>
<rect x="254.20" y="602.10" width="19.00" height="5.10" fill="#2b4c84"/>
<rect x="254.20" y="592.60" width="19.00" height="9.50" fill="#a8631f"/>
<rect x="254.20" y="592.10" width="19.00" height="0.50" fill="#e38f1c"/>
<rect x="254.20" y="585.80" width="19.00" height="6.30" fill="#6aaa42"/>
<rect x="254.20" y="584.70" width="19.00" height="1.10" fill="#a5002c"/>
<line x1="263.70" y1="607.20" x2="263.70" y2="606.40" stroke="#111" stroke-width="1.1"/>
<line x1="259.00" y1="606.40" x2="268.40" y2="606.40" stroke="#111" stroke-width="1.1"/>
<line x1="263.70" y1="602.10" x2="263.70" y2="600.70" stroke="#111" stroke-width="1.1"/>
<line x1="259.00" y1="600.70" x2="268.40" y2="600.70" stroke="#111" stroke-width="1.1"/>
<line x1="263.70" y1="592.60" x2="263.70" y2="591.10" stroke="#111" stroke-width="1.1"/>
<line x1="259.00" y1="591.10" x2="268.40" y2="591.10" stroke="#111" stroke-width="1.1"/>
<line x1="263.70" y1="592.10" x2="263.70" y2="591.10" stroke="#111" stroke-width="1.1"/>
<line x1="259.00" y1="591.10" x2="268.40" y2="591.10" stroke="#111" stroke-width="1.1"/>
<line x1="263.70" y1="585.80" x2="263.70" y2="588.10" stroke="#111" stroke-width="1.1"/>
<line x1="259.00" y1="588.10" x2="268.40" y2="588.10" stroke="#111" stroke-width="1.1"/>
<line x1="263.70" y1="584.70" x2="263.70" y2="583.60" stroke="#111" stroke-width="1.1"/>
<line x1="259.00" y1="583.60" x2="268.40" y2="583.60" stroke="#111" stroke-width="1.1"/>
<line x1="235.10" y1="486.40" x2="266.20" y2="486.40" stroke="#222" stroke-width="1.2"/>
<polygon points="250.70,479.25 251.33,480.53 252.74,480.74 251.72,481.73 251.96,483.14 250.70,482.47 249.44,483.14 249.68,481.73 248.66,480.74 250.07,480.53" fill="#111"/>
<text x="227.20" y="620.30" font-size="9.6" text-anchor="start" font-weight="normal" font-style="normal" fill="#111" textLength="15.20" lengthAdjust="spacingAndGlyphs">WT</text>
<text x="248.40" y="620.30" font-size="9.6" text-anchor="start" font-weight="normal" font-style="italic" fill="#111" textLength="15.00" lengthAdjust="spacingAndGlyphs">Cre</text>
<text x="263.60" y="617.10" font-size="5.3" text-anchor="start" font-weight="normal" font-style="italic" fill="#111" textLength="16.00" lengthAdjust="spacingAndGlyphs">+/DTA</text>
<line x1="378.90" y1="479.30" x2="378.90" y2="608.10" stroke="#000" stroke-width="1.25"/>
<line x1="374.90" y1="482.60" x2="378.90" y2="482.60" stroke="#000" stroke-width="1.15"/>
<text x="371.60" y="486.15" font-size="10.0" text-anchor="end" font-weight="normal" font-style="normal" fill="#111" textLength="16.05" lengthAdjust="spacingAndGlyphs">600</text>
<line x1="374.90" y1="513.83" x2="378.90" y2="513.83" stroke="#000" stroke-width="1.15"/>
<text x="371.60" y="517.38" font-size="10.0" text-anchor="end" font-weight="normal" font-style="normal" fill="#111" textLength="16.05" lengthAdjust="spacingAndGlyphs">450</text>
<line x1="374.90" y1="545.05" x2="378.90" y2="545.05" stroke="#000" stroke-width="1.15"/>
<text x="371.60" y="548.60" font-size="10.0" text-anchor="end" font-weight="normal" font-style="normal" fill="#111" textLength="16.05" lengthAdjust="spacingAndGlyphs">300</text>
<line x1="374.90" y1="576.27" x2="378.90" y2="576.27" stroke="#000" stroke-width="1.15"/>
<text x="371.60" y="579.82" font-size="10.0" text-anchor="end" font-weight="normal" font-style="normal" fill="#111" textLength="16.05" lengthAdjust="spacingAndGlyphs">150</text>
<line x1="374.90" y1="607.50" x2="378.90" y2="607.50" stroke="#000" stroke-width="1.15"/>
<text x="371.60" y="611.05" font-size="10.0" text-anchor="end" font-weight="normal" font-style="normal" fill="#111" textLength="5.35" lengthAdjust="spacingAndGlyphs">0</text>
<line x1="378.30" y1="607.50" x2="437.10" y2="607.50" stroke="#000" stroke-width="1.25"/>
<text class="v" transform="translate(349.40,542.70) rotate(-90)" x="0" y="0" font-size="11.0" text-anchor="middle" fill="#111" textLength="47.80" lengthAdjust="spacingAndGlyphs"># CFU-C / ee</text>
<rect x="384.00" y="600.30" width="18.90" height="6.90" fill="#efbf1f"/>
<rect x="384.00" y="591.20" width="18.90" height="9.10" fill="#2b4c84"/>
<rect x="384.00" y="556.10" width="18.90" height="35.10" fill="#a8631f"/>
<rect x="384.00" y="547.60" width="18.90" height="8.50" fill="#e38f1c"/>
<rect x="384.00" y="505.90" width="18.90" height="41.70" fill="#6aaa42"/>
<rect x="384.00" y="498.10" width="18.90" height="7.80" fill="#a5002c"/>
<line x1="393.40" y1="600.30" x2="393.40" y2="596.30" stroke="#111" stroke-width="1.1"/>
<line x1="388.70" y1="596.30" x2="398.10" y2="596.30" stroke="#111" stroke-width="1.1"/>
<line x1="393.40" y1="591.20" x2="393.40" y2="588.80" stroke="#111" stroke-width="1.1"/>
<line x1="388.70" y1="588.80" x2="398.10" y2="588.80" stroke="#111" stroke-width="1.1"/>
<line x1="393.40" y1="556.10" x2="393.40" y2="544.90" stroke="#111" stroke-width="1.1"/>
<line x1="388.70" y1="544.90" x2="398.10" y2="544.90" stroke="#111" stroke-width="1.1"/>
<line x1="393.40" y1="547.60" x2="393.40" y2="542.90" stroke="#111" stroke-width="1.1"/>
<line x1="388.70" y1="542.90" x2="398.10" y2="542.90" stroke="#111" stroke-width="1.1"/>
<line x1="393.40" y1="505.90" x2="393.40" y2="495.50" stroke="#111" stroke-width="1.1"/>
<line x1="388.70" y1="495.50" x2="398.10" y2="495.50" stroke="#111" stroke-width="1.1"/>
<line x1="393.40" y1="498.10" x2="393.40" y2="488.30" stroke="#111" stroke-width="1.1"/>
<line x1="388.70" y1="488.30" x2="398.10" y2="488.30" stroke="#111" stroke-width="1.1"/>
<rect x="412.7" y="605.5" width="19.2" height="1.8" fill="#6aaa42"/>
<rect x="412.7" y="605.0" width="19.2" height="0.6" fill="#e38f1c"/>
<rect x="412.7" y="603.9" width="19.2" height="1.15" fill="#a5002c"/>
<line x1="417.60" y1="606.30" x2="426.80" y2="606.30" stroke="#111" stroke-width="1.2"/>
<line x1="422.30" y1="604.00" x2="422.30" y2="602.90" stroke="#111" stroke-width="1.1"/>
<line x1="417.60" y1="602.90" x2="427.00" y2="602.90" stroke="#111" stroke-width="1.1"/>
<line x1="393.50" y1="485.30" x2="424.60" y2="485.30" stroke="#222" stroke-width="1.2"/>
<polygon points="404.80,478.35 405.43,479.63 406.84,479.84 405.82,480.83 406.06,482.24 404.80,481.57 403.54,482.24 403.78,480.83 402.76,479.84 404.17,479.63" fill="#111"/>
<polygon points="409.00,478.35 409.63,479.63 411.04,479.84 410.02,480.83 410.26,482.24 409.00,481.57 407.74,482.24 407.98,480.83 406.96,479.84 408.37,479.63" fill="#111"/>
<polygon points="413.20,478.35 413.83,479.63 415.24,479.84 414.22,480.83 414.46,482.24 413.20,481.57 411.94,482.24 412.18,480.83 411.16,479.84 412.57,479.63" fill="#111"/>
<text x="385.60" y="619.30" font-size="9.6" text-anchor="start" font-weight="normal" font-style="normal" fill="#111" textLength="14.80" lengthAdjust="spacingAndGlyphs">WT</text>
<text x="406.80" y="619.30" font-size="9.6" text-anchor="start" font-weight="normal" font-style="italic" fill="#111" textLength="14.40" lengthAdjust="spacingAndGlyphs">Cre</text>
<text x="421.60" y="616.10" font-size="5.3" text-anchor="start" font-weight="normal" font-style="italic" fill="#111" textLength="16.40" lengthAdjust="spacingAndGlyphs">+/DTA</text>
<rect x="450" y="501.00" width="16" height="8" fill="#a5002c"/>
<text x="469.50" y="508.00" font-size="8.6" text-anchor="start" font-weight="normal" font-style="normal" fill="#222" textLength="42.00" lengthAdjust="spacingAndGlyphs">CFU-GEMM</text>
<rect x="450" y="513.00" width="16" height="8" fill="#6aaa42"/>
<text x="469.50" y="520.00" font-size="8.6" text-anchor="start" font-weight="normal" font-style="normal" fill="#222" textLength="27.70" lengthAdjust="spacingAndGlyphs">CFU-GE</text>
<rect x="450" y="525.00" width="16" height="8" fill="#e38f1c"/>
<text x="469.50" y="532.00" font-size="8.6" text-anchor="start" font-weight="normal" font-style="normal" fill="#222" textLength="24.70" lengthAdjust="spacingAndGlyphs">CFU-M</text>
<rect x="450" y="537.00" width="16" height="8" fill="#a8631f"/>
<text x="469.50" y="544.00" font-size="8.6" text-anchor="start" font-weight="normal" font-style="normal" fill="#222" textLength="23.50" lengthAdjust="spacingAndGlyphs">CFU-G</text>
<rect x="450" y="549.00" width="16" height="8" fill="#2b4c84"/>
<text x="469.50" y="556.00" font-size="8.6" text-anchor="start" font-weight="normal" font-style="normal" fill="#222" textLength="21.50" lengthAdjust="spacingAndGlyphs">BFU-E</text>
<rect x="450" y="561.00" width="16" height="8" fill="#efbf1f"/>
<text x="469.50" y="568.00" font-size="8.6" text-anchor="start" font-weight="normal" font-style="normal" fill="#222" textLength="21.50" lengthAdjust="spacingAndGlyphs">CFU-E</text>
<line x1="61.30" y1="650.00" x2="61.30" y2="734.50" stroke="#000" stroke-width="1.25"/>
<line x1="57.30" y1="653.40" x2="61.30" y2="653.40" stroke="#000" stroke-width="1.15"/>
<text x="54.00" y="656.10" font-size="7.6" text-anchor="end" font-weight="normal" font-style="normal" fill="#111" textLength="8.13" lengthAdjust="spacingAndGlyphs">40</text>
<line x1="57.30" y1="673.52" x2="61.30" y2="673.52" stroke="#000" stroke-width="1.15"/>
<text x="54.00" y="676.22" font-size="7.6" text-anchor="end" font-weight="normal" font-style="normal" fill="#111" textLength="8.13" lengthAdjust="spacingAndGlyphs">30</text>
<line x1="57.30" y1="693.65" x2="61.30" y2="693.65" stroke="#000" stroke-width="1.15"/>
<text x="54.00" y="696.35" font-size="7.6" text-anchor="end" font-weight="normal" font-style="normal" fill="#111" textLength="8.13" lengthAdjust="spacingAndGlyphs">20</text>
<line x1="57.30" y1="713.77" x2="61.30" y2="713.77" stroke="#000" stroke-width="1.15"/>
<text x="54.00" y="716.47" font-size="7.6" text-anchor="end" font-weight="normal" font-style="normal" fill="#111" textLength="8.13" lengthAdjust="spacingAndGlyphs">10</text>
<line x1="57.30" y1="733.90" x2="61.30" y2="733.90" stroke="#000" stroke-width="1.15"/>
<text x="54.00" y="736.60" font-size="7.6" text-anchor="end" font-weight="normal" font-style="normal" fill="#111" textLength="4.07" lengthAdjust="spacingAndGlyphs">0</text>
<line x1="60.70" y1="733.90" x2="140.00" y2="733.90" stroke="#000" stroke-width="1.25"/>
<text class="v" transform="translate(38.30,691.60) rotate(-90)" x="0" y="0" font-size="11.6" text-anchor="middle" fill="#111" textLength="60.20" lengthAdjust="spacingAndGlyphs">Chimerism (%)</text>
<circle cx="81.40" cy="671.50" r="2.5" fill="#a8002b"/>
<circle cx="81.40" cy="681.50" r="2.5" fill="#a8002b"/>
<circle cx="81.35" cy="718.75" r="2.5" fill="#a8002b"/>
<circle cx="72.30" cy="728.30" r="2.5" fill="#a8002b"/>
<circle cx="76.80" cy="732.90" r="2.5" fill="#a8002b"/>
<circle cx="81.35" cy="733.70" r="2.5" fill="#a8002b"/>
<circle cx="85.90" cy="733.55" r="2.5" fill="#a8002b"/>
<circle cx="90.40" cy="731.70" r="2.5" fill="#a8002b"/>
<rect x="110.6" y="731.3" width="22.4" height="5.2" fill="#1f3c80"/>
<text x="75.50" y="747.00" font-size="7.2" text-anchor="start" font-weight="normal" font-style="normal" fill="#111" textLength="11.50" lengthAdjust="spacingAndGlyphs">WT</text>
<text x="106.20" y="747.00" font-size="9.2" text-anchor="start" font-weight="normal" font-style="italic" fill="#111" textLength="14.30" lengthAdjust="spacingAndGlyphs">Cre</text>
<text x="120.90" y="744.20" font-size="5.6" text-anchor="start" font-weight="normal" font-style="italic" fill="#111" textLength="16.60" lengthAdjust="spacingAndGlyphs">+/DTA</text>
<line x1="222.90" y1="650.00" x2="222.90" y2="734.00" stroke="#000" stroke-width="1.25"/>
<line x1="218.90" y1="653.20" x2="222.90" y2="653.20" stroke="#000" stroke-width="1.15"/>
<text x="215.50" y="655.90" font-size="7.6" text-anchor="end" font-weight="normal" font-style="normal" fill="#111" textLength="12.20" lengthAdjust="spacingAndGlyphs">100</text>
<line x1="218.90" y1="669.24" x2="222.90" y2="669.24" stroke="#000" stroke-width="1.15"/>
<text x="215.50" y="671.94" font-size="7.6" text-anchor="end" font-weight="normal" font-style="normal" fill="#111" textLength="8.13" lengthAdjust="spacingAndGlyphs">80</text>
<line x1="218.90" y1="685.28" x2="222.90" y2="685.28" stroke="#000" stroke-width="1.15"/>
<text x="215.50" y="687.98" font-size="7.6" text-anchor="end" font-weight="normal" font-style="normal" fill="#111" textLength="8.13" lengthAdjust="spacingAndGlyphs">60</text>
<line x1="218.90" y1="701.32" x2="222.90" y2="701.32" stroke="#000" stroke-width="1.15"/>
<text x="215.50" y="704.02" font-size="7.6" text-anchor="end" font-weight="normal" font-style="normal" fill="#111" textLength="8.13" lengthAdjust="spacingAndGlyphs">40</text>
<line x1="218.90" y1="717.36" x2="222.90" y2="717.36" stroke="#000" stroke-width="1.15"/>
<text x="215.50" y="720.06" font-size="7.6" text-anchor="end" font-weight="normal" font-style="normal" fill="#111" textLength="8.13" lengthAdjust="spacingAndGlyphs">20</text>
<line x1="218.90" y1="733.40" x2="222.90" y2="733.40" stroke="#000" stroke-width="1.15"/>
<text x="215.50" y="736.10" font-size="7.6" text-anchor="end" font-weight="normal" font-style="normal" fill="#111" textLength="4.07" lengthAdjust="spacingAndGlyphs">0</text>
<line x1="222.30" y1="733.40" x2="302.00" y2="733.40" stroke="#000" stroke-width="1.25"/>
<text class="v" transform="translate(195.60,691.00) rotate(-90)" x="0" y="0" font-size="11.6" text-anchor="middle" fill="#111" textLength="58.80" lengthAdjust="spacingAndGlyphs">Chimerism (%)</text>
<circle cx="242.80" cy="665.50" r="2.5" fill="#a8002b"/>
<circle cx="242.80" cy="696.40" r="2.5" fill="#a8002b"/>
<circle cx="242.80" cy="714.50" r="2.5" fill="#a8002b"/>
<circle cx="233.75" cy="732.20" r="2.5" fill="#a8002b"/>
<circle cx="238.30" cy="732.90" r="2.5" fill="#a8002b"/>
<circle cx="242.80" cy="733.20" r="2.5" fill="#a8002b"/>
<circle cx="247.40" cy="733.20" r="2.5" fill="#a8002b"/>
<circle cx="251.90" cy="732.90" r="2.5" fill="#a8002b"/>
<rect x="271.8" y="731.0" width="22.5" height="5.0" fill="#1f3c80"/>
<text x="237.00" y="747.00" font-size="7.2" text-anchor="start" font-weight="normal" font-style="normal" fill="#111" textLength="11.80" lengthAdjust="spacingAndGlyphs">WT</text>
<text x="267.80" y="747.00" font-size="9.2" text-anchor="start" font-weight="normal" font-style="normal" fill="#111" textLength="14.00" lengthAdjust="spacingAndGlyphs">Cre</text>
<text x="282.20" y="744.20" font-size="5.6" text-anchor="start" font-weight="normal" font-style="normal" fill="#111" textLength="17.00" lengthAdjust="spacingAndGlyphs">+/DTA</text>
<rect x="1.5" y="1.5" width="517" height="755" fill="none" stroke="#9a9a9a" stroke-width="1"/>
<rect x="0.5" y="0.5" width="519" height="757" fill="none" stroke="#000" stroke-width="1"/>
</svg>
</body></html>
